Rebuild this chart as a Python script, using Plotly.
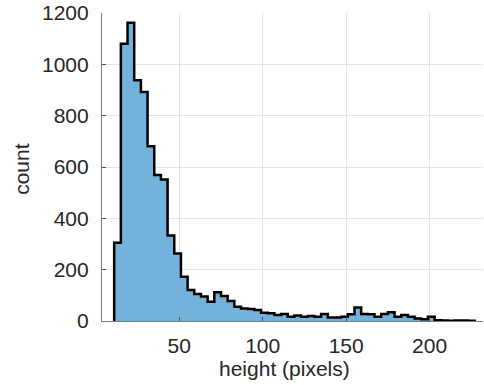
import plotly.graph_objects as go

# histogram data
bin_start = 11
bin_width = 4
counts = [305, 1080, 1162, 938, 892, 681, 569, 551, 333, 263,
          172, 121, 105, 95, 75, 112, 97, 78, 56, 49,
          47, 43, 32, 30, 23, 27, 17, 21, 17, 19,
          17, 27, 14, 14, 17, 26, 53, 27, 26, 17,
          27, 34, 17, 23, 17, 10, 7, 17, 3, 2,
          1, 2, 2, 1]
x_ticks = [50, 100, 150, 200]
y_ticks = [0, 200, 400, 600, 800, 1000, 1200]
x_label = "height (pixels)"
y_label = "count"

edges = [bin_start + bin_width * i for i in range(len(counts) + 1)]
xs = [edges[0]] + edges + [edges[-1]]
ys = [0] + counts + [counts[-1], 0]

FONT = "Liberation Sans, Arial, Helvetica, sans-serif"
FS = 21

fig = go.Figure()
fig.add_trace(go.Scatter(
    x=xs, y=ys, mode="lines", line=dict(shape="hv", color="black", width=2.5),
    fill="tozeroy", fillcolor="#72b2db", hoverinfo="skip", showlegend=False))

axis_common = dict(
    showgrid=True, gridcolor="#e3e3e3", gridwidth=1,
    showline=True, linecolor="#7a7a7a", linewidth=1.2,
    ticks="inside", ticklen=4, tickcolor="#555555", tickwidth=1,
    zeroline=False, mirror=False, automargin=False,
    tickfont=dict(family=FONT, size=FS, color="#262626"),
)
fig.update_xaxes(range=[3.7, 232], tickvals=x_ticks, ticklabelstandoff=6, **axis_common)
fig.update_yaxes(range=[0, 1200], tickvals=y_ticks, ticklabelstandoff=8, **axis_common)

fig.update_layout(
    width=484, height=385,
    margin=dict(l=102, r=1, t=13, b=64, autoexpand=False),
    paper_bgcolor="white", plot_bgcolor="white",
    font=dict(family=FONT, size=FS, color="#262626"),
    hovermode=False,
    annotations=[
        dict(text=x_label, xref="paper", yref="paper", x=0.48, y=-0.153,
             xanchor="center", yanchor="middle", showarrow=False,
             font=dict(family=FONT, size=FS, color="#262626")),
        dict(text=y_label, xref="paper", yref="paper", x=-0.21, y=0.494,
             xanchor="center", yanchor="middle", textangle=-90, showarrow=False,
             font=dict(family=FONT, size=FS, color="#262626")),
    ],
)

fig.write_html("out.html", config={"displayModeBar": False},
               post_script="document.body.style.margin='0px';")
